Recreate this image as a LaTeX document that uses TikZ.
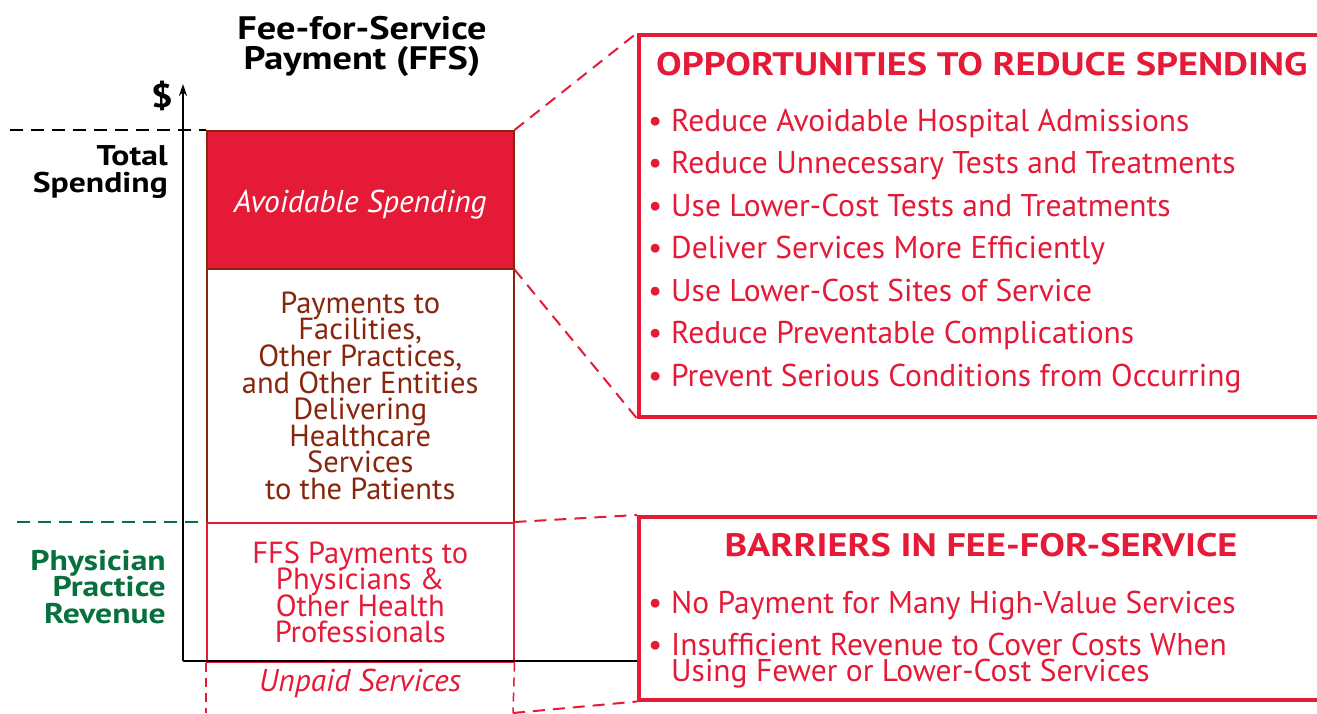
\documentclass[tikz,border=0pt]{standalone}
\usepackage{fontspec}
\setmainfont{PT Sans}[BoldFeatures={FakeStretch=1.18}]
\usetikzlibrary{positioning,arrows.meta}
\definecolor{FFSRed}{RGB}{228,26,55}
\definecolor{FFSBrown}{RGB}{135,38,12}
\definecolor{FFSGreen}{RGB}{8,112,62}
\newcommand{\tightlines}{\lineskiplimit=-50pt\relax}

\begin{document}
\begin{tikzpicture}[
        x=1pt, y=-1pt,
        % --- STYLE CHUNG ---
        stackbox/.style={
            rectangle,
            minimum width=307pt,
            inner sep=0pt,
            anchor=north west,
            align=center
        },
        % Hop "Avoidable Spending" (do)
        avoidbox/.style={
            stackbox,
            draw=FFSBrown,
            fill=FFSRed,
            line width=1.5pt,
            text=white,
            text height=26pt, text depth=0pt,
            font=\itshape\fontsize{31.5}{30}\selectfont
        },
        % Hop giua (nau)
        paybox/.style={
            stackbox,
            draw=FFSBrown,
            line width=1.5pt,
            text=FFSBrown,
            font=\fontsize{30.5}{26.6}\selectfont\tightlines
        },
        % Hop FFS (do)
        ffsbox/.style={
            stackbox,
            draw=FFSRed,
            line width=1.5pt,
            text=FFSRed,
            font=\fontsize{30.5}{26.6}\selectfont\tightlines
        },
        % Hop ben phai
        sidebox/.style={
            rectangle,
            draw=FFSRed,
            line width=3.5pt,
            minimum width=720pt,
            anchor=north west
        },
        sidetitle/.style={text=FFSRed, inner sep=0pt, font=\bfseries\fontsize{32.5}{34}\selectfont},
        bullettext/.style={anchor=west, inner sep=0pt, text=FFSRed,
            text height=22pt, text depth=0pt, font=\fontsize{31.5}{26}\selectfont},
        axislabel/.style={anchor=east, align=right, inner sep=0pt,
            font=\bfseries\fontsize{28.5}{26.6}\selectfont\tightlines},
        % Duong noi (net dut)
        zoomline/.style={draw=FFSRed, line width=2pt, dash pattern=on 12pt off 8pt},
        levelline/.style={line width=2pt, dash pattern=on 13pt off 8pt}
    ]
        \useasboundingbox (0,0) rectangle (1317,713);

        % --- TIEU DE ---
        \node[align=center, inner sep=0pt,
              font=\bfseries\fontsize{32.5}{30}\selectfont\tightlines]
            (title) at (362,46) {Fee-for-Service\\Payment (FFS)};

        % --- COT CHI PHI ---
        \node[avoidbox, minimum height=138pt] (avoid) at (206,130) {Avoidable Spending};
        \node[paybox, minimum height=254pt] (pay) at (206,268)
            {Payments to\\Facilities,\\Other Practices,\\and Other Entities\\Delivering\\Healthcare\\Services\\to the Patients};
        \node[ffsbox, minimum height=139pt] (ffs) at (206,522)
            {FFS Payments to\\Physicians \&\\Other Health\\Professionals};
        \coordinate (unpaidSW) at (206,713);
        \coordinate (unpaidSE) at (513,713);
        \draw[FFSRed, line width=1.5pt, dash pattern=on 9pt off 6pt] (ffs.south west) -- (unpaidSW);
        \draw[FFSRed, line width=1.5pt, dash pattern=on 9pt off 6pt] (ffs.south east) -- (unpaidSE);
        \node[text=FFSRed, font=\itshape\fontsize{31.5}{30}\selectfont] (unpaid) at (360,683) {Unpaid Services};

        % --- TRUC ---
        \coordinate (origin) at (183,661);
        \node[font=\bfseries\fontsize{33}{32}\selectfont, inner sep=0pt] (dollar) at (162,96) {\$};
        \node[axislabel] (total) at (168,172) {Total\\Spending};
        \node[axislabel, text=FFSGreen] (revenue) at (166,587) {Physician\\Practice\\Revenue};
        \draw[levelline] (10,130) -- (avoid.north west);
        \draw[levelline, FFSGreen] (17,522) -- (ffs.north west);

        % --- HOP BEN PHAI ---
        \node[sidebox, minimum height=382pt] (opp) at (637,33) {};
        \node[sidebox, minimum height=183pt] (barrier) at (637,515) {};
        \draw[line width=2pt] (origin) -- (barrier.west |- origin);
        \draw[line width=2pt, -{Stealth[length=12pt, width=8pt]}] (origin) -- (183,84);

        \node[sidetitle, anchor=west] (opptitle) at (656,64)
            {OPPORTUNITIES TO REDUCE SPENDING};
        \foreach \txt [count=\i from 0] in {Reduce Avoidable Hospital Admissions,
                Reduce Unnecessary Tests and Treatments,
                Use Lower-Cost Tests and Treatments,
                Deliver Services More Efficiently,
                Use Lower-Cost Sites of Service,
                Reduce Preventable Complications,
                Prevent Serious Conditions from Occurring} {
            \node[bullettext] (oppdot-\i) at (648,120+42.5*\i) {\textbullet};
            \node[bullettext] (opp-\i) at (671,120+42.5*\i) {\txt};
        }

        \node[sidetitle] (barriertitle) at (981,545)
            {BARRIERS IN FEE-FOR-SERVICE};
        \node[bullettext] (bardot-0) at (648,602) {\textbullet};
        \node[bullettext] (bar-0) at (671,602) {No Payment for Many High-Value Services};
        \node[bullettext] (bardot-1) at (648,644) {\textbullet};
        \node[bullettext] (bar-1) at (671,644) {Insufficient Revenue to Cover Costs When};
        \node[bullettext] (bar-1b) at (671,670) {Using Fewer or Lower-Cost Services};

        % --- DUONG PHONG TO ---
        \draw[zoomline] (avoid.north east) -- (opp.north west);
        \draw[zoomline] (avoid.south east) -- (opp.south west);
        \draw[zoomline] (ffs.north east) -- (barrier.north west);
        \draw[zoomline] (unpaidSE) -- (barrier.south west);
\end{tikzpicture}
\end{document}
